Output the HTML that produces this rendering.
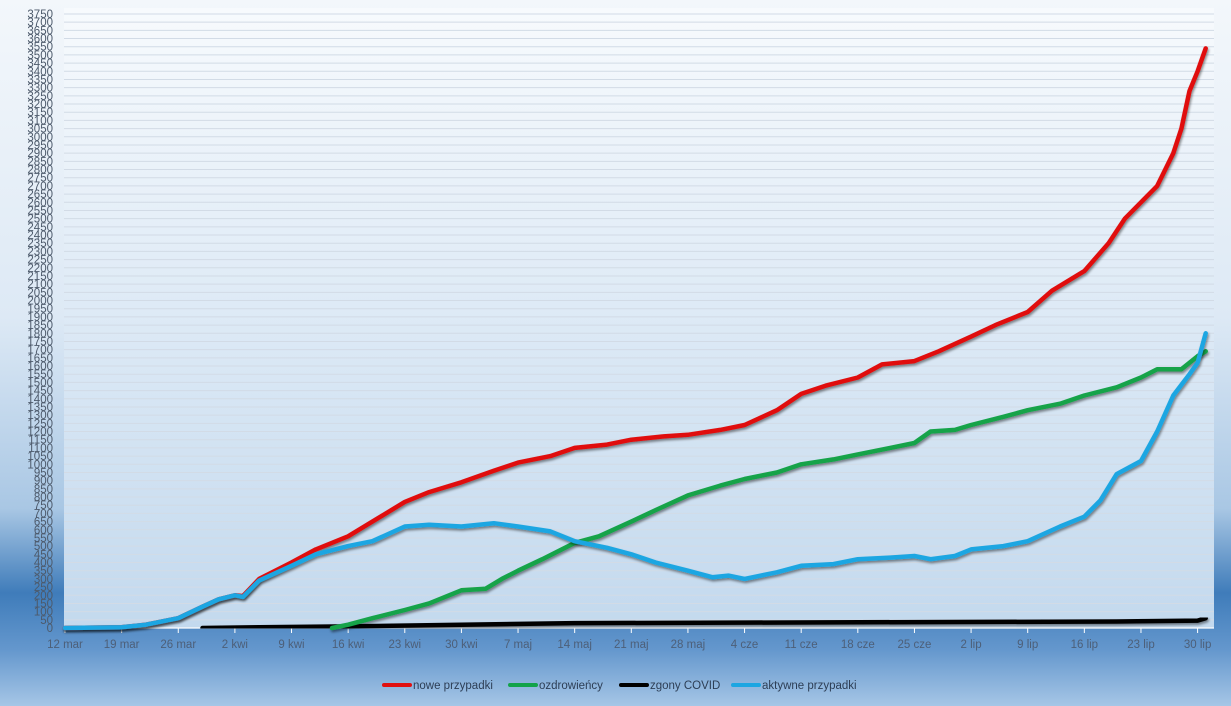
<!DOCTYPE html>
<html><head><meta charset="utf-8">
<style>
html,body{margin:0;padding:0;}
body{width:1231px;height:706px;overflow:hidden;font-family:"Liberation Sans",sans-serif;
background:linear-gradient(180deg,#f3f7fb 0%,#dde9f5 45%,#a9c7e4 72%,#3f7cba 84%,#6497cd 92%,#a6c6e6 100%);}
svg{display:block}
</style></head>
<body>
<svg id="chart" width="1231" height="706" xmlns="http://www.w3.org/2000/svg">
<defs>
<linearGradient id="plotbg" x1="0" y1="0" x2="0" y2="1">
<stop offset="0" stop-color="#f7fafd"/><stop offset="1" stop-color="#c3d9ee"/>
</linearGradient>
<filter id="sh" x="-5%" y="-5%" width="110%" height="110%">
<feDropShadow dx="1" dy="2" stdDeviation="1.2" flood-color="#000" flood-opacity="0.45"/>
</filter>
</defs>
<rect x="64" y="8" width="1150" height="620" fill="url(#plotbg)"/>
<g id="grid"></g><g id="yticks"></g><g id="xticks"></g><g id="series"></g><g id="legend"></g>
</svg>
<script>
// day offsets from 12 mar
const redDays = [0,7,10,14,17,19,21,22,24,28,31,35,38,42,45,49,53,56,60,63,67,70,74,77,81,84,88,91,94,98,101,105,108,112,115,119,122,126,129,131,133,135,137,138,139,140,141];
const redVals = [0,5,20,60,130,175,200,195,300,400,480,560,650,770,830,890,960,1010,1050,1100,1120,1150,1170,1180,1210,1240,1330,1430,1480,1530,1610,1630,1690,1780,1850,1930,2060,2180,2350,2500,2600,2700,2900,3050,3280,3400,3540];
const greenDays = [33,35,38,42,45,49,52,54,56,59,63,66,70,73,77,81,84,88,91,95,98,102,105,107,110,112,116,119,123,126,130,133,135,138,140,141];
const greenVals = [0,20,60,110,150,230,240,300,350,420,520,560,650,720,810,870,910,950,1000,1030,1060,1100,1130,1200,1210,1240,1290,1330,1370,1420,1470,1530,1580,1580,1660,1690];
const blueDays = [0,7,10,14,17,19,21,22,24,28,31,35,38,42,45,49,53,56,60,63,67,70,73,77,80,82,84,88,91,95,98,102,105,107,110,112,116,119,123,126,128,130,133,135,137,139,140,141];
const blueVals = [0,5,20,60,130,175,200,190,290,380,450,500,530,620,630,620,640,620,590,530,490,450,400,350,310,320,300,340,380,390,420,430,440,420,440,480,500,530,620,680,780,940,1020,1200,1420,1550,1620,1800];
const blackDays = [17,24,35,49,63,130,140,141];
const blackVals = [0,5,10,20,30,40,45,60];
const xTickLabels = ["12 mar","19 mar","26 mar","2 kwi","9 kwi","16 kwi","23 kwi","30 kwi","7 maj","14 maj","21 maj","28 maj","4 cze","11 cze","18 cze","25 cze","2 lip","9 lip","16 lip","23 lip","30 lip"];
const yMax = 3750, yStep = 50;

const NS="http://www.w3.org/2000/svg";
const X0=65, PXD=8.09, Y0=628, YTOP=14;
function xs(d){return X0+d*PXD;}
function ys(v){return Y0-(v/yMax)*(Y0-YTOP);}
function mk(tag,attrs,parent){const e=document.createElementNS(NS,tag);for(const k in attrs)e.setAttribute(k,attrs[k]);parent.appendChild(e);return e;}

const grid=document.getElementById('grid'), yt=document.getElementById('yticks'), xt=document.getElementById('xticks');
for(let v=0;v<=yMax;v+=yStep){
  const y=ys(v);
  if(v>0){const l=mk('line',{x1:64,x2:1214,y1:y,y2:y,stroke:'#d2dbe6','stroke-width':1},grid);
  
  }
  const t=mk('text',{x:53,y:y+4,'text-anchor':'end','font-size':'11.5',fill:'#4d5a6b'},yt);
  t.textContent=v;
  
  
}
const ax=mk('line',{x1:64,x2:1214,y1:Y0,y2:Y0,stroke:'#ffffff','stroke-width':1.2},xt);


xTickLabels.forEach((lab,i)=>{
  const x=xs(i*7);
  const tk=mk('line',{x1:x,x2:x,y1:Y0,y2:Y0+5,stroke:'#ffffff','stroke-width':1},xt);
  
  
  const t=mk('text',{x:x,y:648,'text-anchor':'middle','font-size':'11.5',fill:'#4d5f78'},xt);
  t.textContent=lab;
  
  
});
const sg=document.getElementById('series');
function line(days,vals,color,name){
  const pts=days.map((d,i)=>xs(d).toFixed(1)+','+ys(vals[i]).toFixed(1)).join(' ');
  const p=mk('polyline',{points:pts,fill:'none',stroke:color,'stroke-width':4.5,'stroke-linejoin':'round','stroke-linecap':'round',filter:'url(#sh)'},sg);
  
  
}
line(blackDays,blackVals,'#000000','zgony-covid-line');
line(greenDays,greenVals,'#12a34a','ozdrowiency-line');
line(redDays,redVals,'#e01010','nowe-przypadki-line');
line(blueDays,blueVals,'#1ca6e2','aktywne-przypadki-line');

const lg=document.getElementById('legend');
[["nowe przypadki",'#e01010',384],["ozdrowieńcy",'#12a34a',510],["zgony COVID",'#000000',621],["aktywne przypadki",'#1ca6e2',733]].forEach(([lab,c,x])=>{
  const g=mk('g',{},lg);
  
  
  mk('line',{x1:x,x2:x+26,y1:685,y2:685,stroke:c,'stroke-width':4,'stroke-linecap':'round'},g);
  const t=mk('text',{x:x+29,y:689,'font-size':'11.5',fill:'#2d3e55'},g);
  t.textContent=lab;
});
</script>
</body></html>
